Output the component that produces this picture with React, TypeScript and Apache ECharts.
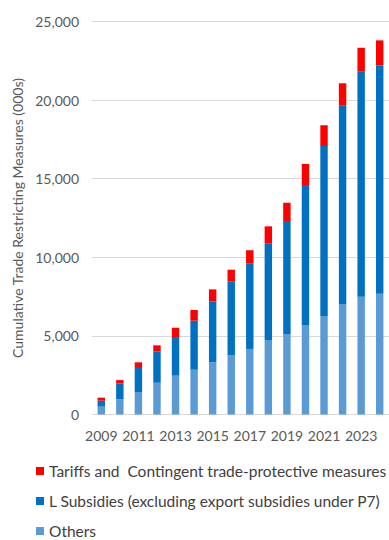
import React, { useEffect, useRef } from "react";
import * as echarts from "echarts";

const years = ["2009","2010","2011","2012","2013","2014","2015","2016","2017","2018","2019","2020","2021","2022","2023","2024"];
const others = [500, 970, 1430, 2020, 2470, 2850, 3320, 3780, 4170, 4740, 5120, 5690, 6270, 7030, 7490, 7680];
const subsidies = [380, 1010, 1530, 2000, 2460, 3120, 3880, 4670, 5420, 6150, 7130, 8910, 10810, 12610, 14340, 14510];
const tariffs = [190, 210, 360, 380, 590, 680, 760, 760, 860, 1080, 1220, 1340, 1320, 1430, 1500, 1610];

const nameTariffs = "Tariffs and  Contingent trade-protective measures";
const nameSubsidies = "L Subsidies (excluding export subsidies under P7)";
const nameOthers = "Others";
const yAxisName = "Cumulative Trade Restricting Measures (000s)";

const FONT = "Lato";

export default function App() {
  const ref = useRef<HTMLDivElement>(null);
  useEffect(() => {
    document.body.style.margin = "0";
    const chart = echarts.init(ref.current!, null, { renderer: "svg" });
    chart.setOption({
      animation: false,
      textStyle: { fontFamily: FONT },
      grid: { left: 92, right: -2, top: 21.5, bottom: 125.5, containLabel: false },
      legend: {
        orient: "vertical",
        left: 36,
        top: 463,
        height: 100,
        padding: 0,
        itemWidth: 8,
        itemHeight: 8,
        itemGap: 14,
        icon: "rect",
        data: [nameTariffs, nameSubsidies, nameOthers],
        textStyle: { fontFamily: FONT, fontSize: 15.5, color: "#404040" },
      },
      xAxis: {
        type: "category",
        data: years,
        axisLine: { lineStyle: { color: "#d9d9d9", width: 1 } },
        axisTick: { show: false },
        axisLabel: { interval: 1, color: "#595959", fontSize: 14, fontFamily: FONT, margin: 14 },
      },
      yAxis: {
        type: "value",
        min: 0,
        max: 25000,
        interval: 5000,
        name: yAxisName,
        nameLocation: "middle",
        nameGap: 67,
        nameTextStyle: { color: "#595959", fontSize: 14, fontFamily: FONT },
        axisLine: { show: false },
        axisTick: { show: false },
        axisLabel: {
          color: "#595959",
          fontSize: 14,
          fontFamily: FONT,
          margin: 13,
          formatter: (v: number) => v.toLocaleString("en-US"),
        },
        splitLine: { lineStyle: { color: "#d9d9d9", width: 1 } },
      },
      series: [
        { name: nameOthers, type: "bar", stack: "a", data: others, barWidth: "40%", itemStyle: { color: "#5B9BD5" } },
        { name: nameSubsidies, type: "bar", stack: "a", data: subsidies, barWidth: "40%", itemStyle: { color: "#0070C0" } },
        { name: nameTariffs, type: "bar", stack: "a", data: tariffs, barWidth: "40%", itemStyle: { color: "#FF0000" } },
      ],
    });
    return () => chart.dispose();
  }, []);
  return <div ref={ref} style={{ width: 389, height: 540 }} />;
}
